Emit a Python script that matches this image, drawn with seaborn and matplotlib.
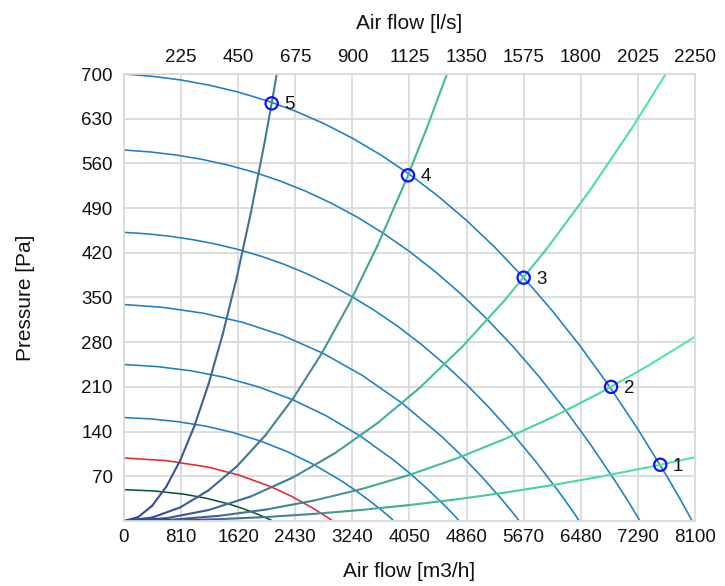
import numpy as np
import pandas as pd
import seaborn as sns
import matplotlib.pyplot as plt
from matplotlib.collections import LineCollection
from matplotlib.colors import LinearSegmentedColormap

# fan curves (air flow m3/h, pressure Pa)
fan1_q = [0, 405, 810, 1215, 1620, 2025, 2430, 2835, 3240, 3645, 4050,
          4455, 4860, 5265, 5670, 6075, 6480, 6885, 7290, 7695, 7898, 8060]
fan1_p = [700, 696.4, 690.6, 682.4, 671.7, 658.3, 641.9, 622.4, 599.5, 573.1, 542.9,
          508.8, 470.6, 428.1, 381.0, 329.3, 272.6, 210.8, 143.7, 71.1, 32.7, 0]
fan2_q = [0, 367.8, 735.7, 1103.5, 1471.4, 1839.2, 2207, 2574.9, 2942.7, 3310.6, 3678.4,
          4046.2, 4414.1, 4781.9, 5149.8, 5517.6, 5885.4, 6253.3, 6621.1, 6989, 7172.9, 7320]
fan2_p = [581, 578.0, 573.2, 566.4, 557.5, 546.4, 532.8, 516.6, 497.6, 475.7, 450.6,
          422.3, 390.6, 355.3, 316.2, 273.3, 226.3, 175.0, 119.3, 59.0, 27.1, 0]
fan3_q = [0, 324.6, 649.2, 973.7, 1298.3, 1622.9, 1947.5, 2272, 2596.6, 2921.2, 3245.8,
          3570.3, 3894.9, 4219.5, 4544.1, 4868.6, 5193.2, 5517.8, 5842.4, 6166.9, 6329.2, 6459]
fan3_p = [452, 449.7, 445.9, 440.6, 433.7, 425.1, 414.5, 401.9, 387.1, 370.1, 350.6,
          328.5, 303.9, 276.4, 246.0, 212.6, 176.0, 136.1, 92.8, 45.9, 21.1, 0]
fan4_q = [0, 563.6, 1127.2, 1690.9, 2254.5, 2818.1, 3381.7, 3945.3, 4509, 4790.8,
          5072.6, 5354.4, 5495.3, 5608]
fan4_p = [339, 334.4, 325.3, 310.9, 290.3, 262.9, 227.9, 184.5, 132.0, 102.1,
          69.6, 34.4, 15.8, 0]
fan5_q = [0, 478.1, 956.2, 1434.3, 1912.4, 2390.5, 2868.5, 3346.6, 3824.7, 4063.8,
          4302.8, 4541.9, 4661.4, 4757]
fan5_p = [245, 241.7, 235.1, 224.7, 209.8, 190.0, 164.7, 133.4, 95.4, 73.8,
          50.3, 24.9, 11.4, 0]
fan6_q = [0, 384.9, 769.8, 1154.8, 1539.7, 1924.6, 2309.5, 2694.4, 3079.4, 3271.8,
          3464.3, 3656.7, 3753, 3830]
fan6_p = [162, 159.8, 155.4, 148.6, 138.7, 125.6, 108.9, 88.2, 63.1, 48.8,
          33.3, 16.5, 7.6, 0]
fan_red_q = [0, 595, 1190, 1636.2, 2082.4, 2379.9, 2677.4, 2900.5, 2960]
fan_red_p = [98.6, 94.6, 84.4, 71.7, 53.7, 38.4, 20.2, 4.6, 0]
fan_green_q = [0, 423.9, 847.8, 1165.8, 1483.7, 1695.7, 1907.6, 2066.6, 2109]
fan_green_p = [49, 47.0, 42.0, 35.6, 26.7, 19.1, 10.1, 2.3, 0]

# system curves through the origin
sys1_q = [0, 675, 1350, 2025, 2700, 3375, 4050, 4725, 5400, 6075, 6750, 7425, 8100]
sys1_p = [0, 0.69, 2.77, 6.23, 11.08, 17.32, 24.94, 33.94, 44.33, 56.11, 69.27, 83.82, 99.75]
sys2_q = [0, 675, 1350, 2025, 2700, 3375, 4050, 4725, 5400, 6075, 6750, 7425, 8100]
sys2_p = [0, 2.00, 8.02, 18.03, 32.06, 50.09, 72.14, 98.19, 128.25, 162.31, 200.38, 242.46, 288.55]
sys3_q = [0, 600, 1200, 1800, 2400, 3000, 3600, 4200, 4800, 5400, 6000, 6600, 7200, 7695]
sys3_p = [0, 4.27, 17.07, 38.40, 68.26, 106.66, 153.59, 209.05, 273.05, 345.57,
          426.64, 516.23, 614.36, 701.7]
sys4_q = [0, 400, 800, 1200, 1600, 2000, 2400, 2800, 3200, 3600, 4000, 4300, 4600]
sys4_p = [0, 5.34, 21.34, 48.02, 85.37, 133.38, 192.07, 261.43, 341.46, 432.16,
          533.54, 616.57, 705.6]
sys5_q = [0, 200, 400, 600, 800, 1000, 1200, 1400, 1600, 1800, 2000, 2100, 2200]
sys5_p = [0, 5.96, 23.84, 53.64, 95.37, 149.01, 214.57, 292.06, 381.47, 482.79,
          596.04, 657.13, 721.2]

# operating points
op_q = [7608, 6910, 5670, 4029, 2095]
op_p = [88, 210, 381, 541.3, 654]
op_labels = ["1", "2", "3", "4", "5"]

x_ticks = [0, 810, 1620, 2430, 3240, 4050, 4860, 5670, 6480, 7290, 8100]
y_ticks = [70, 140, 210, 280, 350, 420, 490, 560, 630, 700]
top_ticks = [225, 450, 675, 900, 1125, 1350, 1575, 1800, 2025, 2250]

sns.set_theme(style="whitegrid")
plt.rcParams['font.family'] = ['Liberation Sans', 'DejaVu Sans']

fig = plt.figure(figsize=(7.25, 5.86), dpi=100)
ax = fig.add_axes([0.171, 0.111, 0.7876, 0.7627])

fans = [
    ("f1", fan1_q, fan1_p), ("f2", fan2_q, fan2_p), ("f3", fan3_q, fan3_p),
    ("f4", fan4_q, fan4_p), ("f5", fan5_q, fan5_p), ("f6", fan6_q, fan6_p),
    ("red", fan_red_q, fan_red_p), ("green", fan_green_q, fan_green_p),
]
rows = []
for name, qs, ps in fans:
    for q, p in zip(qs, ps):
        rows.append({"curve": name, "q": q, "p": p})
fan_df = pd.DataFrame(rows)
palette = {n: "#1a7fc4" for n, _, _ in fans}
palette["red"] = "#e8262a"
palette["green"] = "#0b5a2c"
sns.lineplot(data=fan_df, x="q", y="p", hue="curve", palette=palette,
             estimator=None, sort=False, legend=False, linewidth=1.15, ax=ax)

# gradient colour along the system curves
cmap = LinearSegmentedColormap.from_list(
    "sys", [(0, "#32409a"), (0.27, "#44808f"), (0.57, "#3fc59a"), (1, "#55eca2")])
for qs, ps in [(sys5_q, sys5_p), (sys4_q, sys4_p), (sys3_q, sys3_p),
               (sys2_q, sys2_p), (sys1_q, sys1_p)]:
    pts = np.column_stack([qs, ps])
    segs = np.stack([pts[:-1], pts[1:]], axis=1)
    mid = (pts[:-1, 0] + pts[1:, 0]) / 2 / 8100
    lc = LineCollection(segs, colors=cmap(mid), linewidths=1.5, zorder=2,
                        capstyle="round", joinstyle="round")
    ax.add_collection(lc)

sns.scatterplot(x=op_q, y=op_p, s=78, marker="o", facecolors="none",
                edgecolors="#1010ff", linewidths=1.6, zorder=5, ax=ax)
for q, p, lab in zip(op_q, op_p, op_labels):
    ax.annotate(lab, (q, p), xytext=(9, -1), textcoords="offset points",
                ha="left", va="center", fontsize=13.5, color="#111111")

ax.set_xlim(0, 8100)
ax.set_ylim(0, 700)
ax.set_xticks(x_ticks)
ax.set_yticks(y_ticks)
ax.grid(True, color="#dadada", linewidth=1.3)
for sp in ax.spines.values():
    sp.set_color("#dadada")
    sp.set_linewidth(1.3)
ax.tick_params(axis="x", length=0, pad=5.5, labelsize=13.5, labelcolor="#111111")
ax.tick_params(axis="y", length=0, pad=8, labelsize=13.5, labelcolor="#111111")
ax.set_xlabel("Air flow [m3/h]", fontsize=15, color="#111111")
ax.set_ylabel("Pressure [Pa]", fontsize=15, color="#111111")
ax.xaxis.set_label_coords(0.5, -0.092)
ax.yaxis.set_label_coords(-0.156, 0.5)

ax2 = ax.twiny()
ax2.set_xlim(0, 2250)
ax2.set_xticks(top_ticks)
ax2.grid(False)
for sp in ax2.spines.values():
    sp.set_visible(False)
ax2.tick_params(axis="x", length=0, pad=6, labelsize=13.5, labelcolor="#111111")
ax2.set_xlabel("Air flow [l/s]", fontsize=15, color="#111111")
ax2.xaxis.set_label_coords(0.5, 1.10)

fig.savefig("out.png", dpi=100)
